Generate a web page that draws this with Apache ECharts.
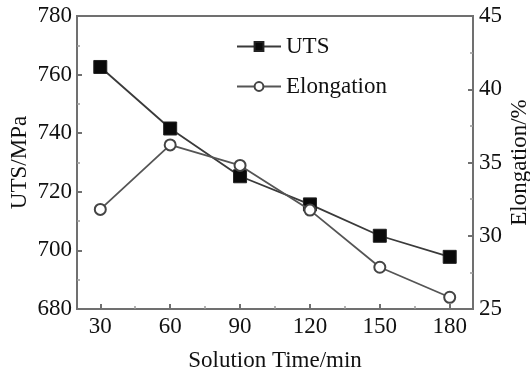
<!DOCTYPE html>
<html>
<head>
<meta charset="utf-8">
<script src="https://cdn.jsdelivr.net/npm/echarts@6/dist/echarts.min.js"></script>
<style>
  html, body { margin: 0; padding: 0; background: #fff; }
  #chart { width: 530px; height: 376px; }
</style>
</head>
<body>
<div id="chart"></div>
<script>
// Solution time (min) and measured properties
const solutionTime = [30, 60, 90, 120, 150, 180];
const uts = [762.6, 741.6, 725.3, 715.7, 705.0, 697.8];          // MPa
const elongation = [31.8, 36.2, 34.8, 31.75, 27.85, 25.8];       // %
const timeTicks = [30, 60, 90, 120, 150, 180];
const timeMinorTicks = [45, 75, 105, 135, 165];

const FONT = '"Liberation Serif", "Times New Roman", serif';
const FONT_SIZE = 23;
const AXIS_COLOR = '#707070';

const pairs = (ys) => solutionTime.map((t, i) => [t, ys[i]]);

const chart = echarts.init(document.getElementById('chart'));
chart.setOption({
  animation: false,
  backgroundColor: '#fff',
  grid: {
    left: 77, right: 57, top: 16, bottom: 67,
    outerBoundsMode: 'none', containLabel: false,
    show: true, borderColor: AXIS_COLOR, borderWidth: 2, backgroundColor: 'transparent'
  },
  legend: {
    left: 231, top: 30, orient: 'vertical',
    itemWidth: 44, itemHeight: 11, itemGap: 17,
    textStyle: { fontFamily: FONT, fontSize: FONT_SIZE, color: '#111' },
    data: ['UTS', 'Elongation']
  },
  xAxis: [
    {
      type: 'value', min: 20, max: 190, position: 'bottom',
      name: 'Solution Time/min', nameLocation: 'middle', nameGap: 40, nameMoveOverlap: false,
      nameTextStyle: { fontFamily: FONT, fontSize: FONT_SIZE, color: '#111' },
      axisLine: { show: true, lineStyle: { color: AXIS_COLOR, width: 2 } },
      axisTick: { show: true, inside: true, length: 5, customValues: timeTicks,
                  lineStyle: { color: AXIS_COLOR, width: 2 } },
      axisLabel: { customValues: timeTicks, margin: 6,
                   fontFamily: FONT, fontSize: FONT_SIZE, color: '#111' },
      splitLine: { show: false }
    },
    {
      type: 'value', min: 20, max: 190, position: 'bottom',
      axisLine: { show: false },
      axisTick: { show: true, inside: true, length: 3, customValues: timeMinorTicks,
                  lineStyle: { color: '#999', width: 1.5 } },
      axisLabel: { show: false },
      splitLine: { show: false }
    }
  ],
  yAxis: [
    {
      type: 'value', min: 680, max: 780, interval: 20, position: 'left',
      name: 'UTS/MPa', nameLocation: 'middle', nameGap: 46, nameRotate: 90, nameMoveOverlap: false,
      nameTextStyle: { fontFamily: FONT, fontSize: FONT_SIZE, color: '#111' },
      axisLine: { show: true, lineStyle: { color: AXIS_COLOR, width: 2 } },
      axisTick: { show: true, inside: true, length: 5, lineStyle: { color: AXIS_COLOR, width: 2 } },
      minorTick: { show: true, splitNumber: 2, length: 3, lineStyle: { color: '#999', width: 1.5 } },
      axisLabel: { margin: 5, fontFamily: FONT, fontSize: FONT_SIZE, color: '#111' },
      splitLine: { show: false }
    },
    {
      type: 'value', min: 25, max: 45, interval: 5, position: 'right',
      name: 'Elongation/%', nameLocation: 'middle', nameGap: 35, nameRotate: 90, nameMoveOverlap: false,
      nameTextStyle: { fontFamily: FONT, fontSize: FONT_SIZE, color: '#111' },
      axisLine: { show: true, lineStyle: { color: AXIS_COLOR, width: 2 } },
      axisTick: { show: true, inside: true, length: 5, lineStyle: { color: AXIS_COLOR, width: 2 } },
      minorTick: { show: true, splitNumber: 2, length: 3, lineStyle: { color: '#999', width: 1.5 } },
      axisLabel: { margin: 6, fontFamily: FONT, fontSize: FONT_SIZE, color: '#111' },
      splitLine: { show: false }
    }
  ],
  series: [
    {
      name: 'UTS', type: 'line', xAxisIndex: 0, yAxisIndex: 0,
      data: pairs(uts),
      symbol: 'rect', symbolSize: 13,
      lineStyle: { color: '#3a3a3a', width: 1.8 },
      itemStyle: { color: '#0a0a0a', borderColor: '#222', borderWidth: 1 },
      z: 3
    },
    {
      name: 'Elongation', type: 'line', xAxisIndex: 0, yAxisIndex: 1,
      data: pairs(elongation),
      symbol: 'circle', symbolSize: 11, showAllSymbol: true,
      lineStyle: { color: '#555', width: 1.8 },
      itemStyle: { color: '#fff', borderColor: '#444', borderWidth: 2 },
      z: 4
    }
  ]
});
</script>
</body>
</html>
